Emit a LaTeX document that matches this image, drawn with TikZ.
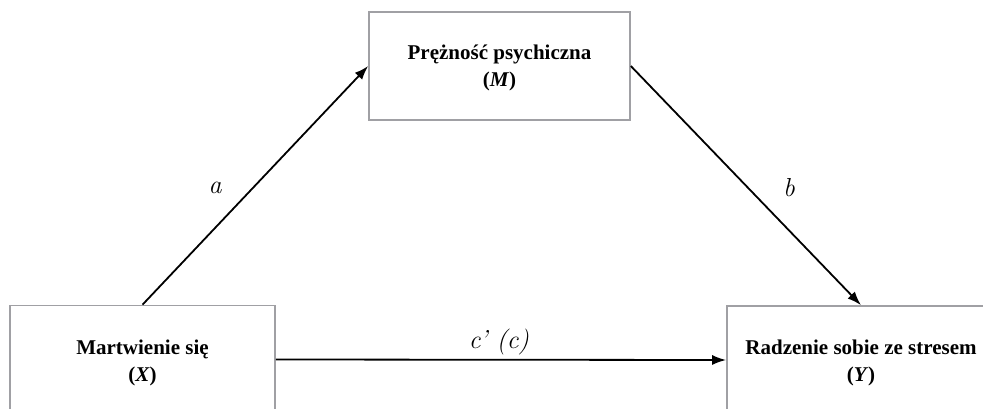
\documentclass[tikz,border=0pt]{standalone}
\usepackage{fontspec}
\newfontfamily\tnr{Liberation Serif}
\usetikzlibrary{arrows.meta}
\tikzset{
  varbox/.style={draw=boxgray, line width=1.6pt, minimum width=#1, minimum height=108pt, inner sep=0pt},
  varlabel/.style={font={\tnr\bfseries\fontsize{21}{27}\selectfont}, align=center, inner sep=0pt},
  pathlabel/.style={font={\itshape\fontsize{26}{30}\selectfont}, inner sep=0pt},
  patharrow/.style={line width=1.8pt, -{Latex[length=14pt,width=10pt]}},
}
\definecolor{boxgray}{HTML}{A0A0A4}
\begin{document}
\begin{tikzpicture}[x=1pt,y=-1pt]
\useasboundingbox (0,0) rectangle (983,409);
\clip (0,0) rectangle (983,409);
\node[varbox=261pt] (M) at (499.5,66) {};
\node[varbox=265pt] (X) at (142.5,359.5) {};
\node[varbox=268pt] (Y) at (861,360) {};
\node[varlabel] (Mt) at ([yshift=-2pt]M.center) {Prężność psychiczna\\(\textit{M})};
\node[varlabel] (Xt) at ([yshift=-3pt]X.center) {Martwienie się\\(\textit{X})};
\node[varlabel] (Yt) at ([yshift=-3pt]Y.center) {Radzenie sobie ze stresem\\(\textit{Y})};
\draw[patharrow] (X.north) -- (M.west);
\draw[patharrow] (M.east) -- (Y.north);
\draw[patharrow] (X.east) -- (Y.west);
\node[pathlabel] (la) at (215,188) {a};
\node[pathlabel] (lb) at (789,188) {b};
\node[pathlabel, anchor=base] (lc) at (499,348) {c\kern-1pt’ (c)};
\end{tikzpicture}
\end{document}
